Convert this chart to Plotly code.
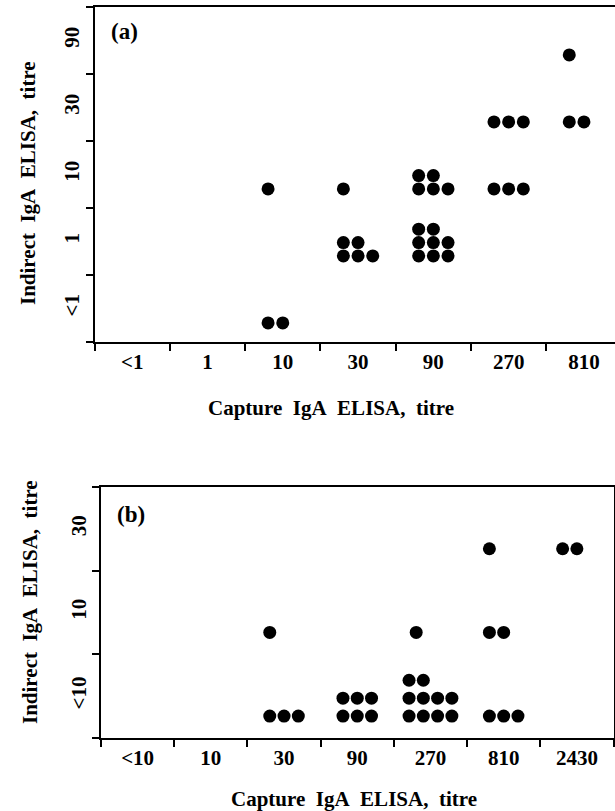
import plotly.graph_objects as go

# ---------------- data ----------------
# Panel (a)
a_xcats = ["<1", "1", "10", "30", "90", "270", "810"]
a_ycats = ["<1", "1", "10", "30", "90"]
a_cell_x = ["10", "10", "30", "30", "90", "90", "270", "270", "810", "810"]
a_cell_y = ["10", "<1", "10", "1", "10", "1", "30", "10", "90", "30"]
a_rows = [[1], [2], [1], [3, 2], [3, 2], [3, 3, 2], [3], [3], [1], [2]]  # dots per row, bottom row first

# Panel (b)
b_xcats = ["<10", "10", "30", "90", "270", "810", "2430"]
b_ycats = ["<10", "10", "30"]
b_cell_x = ["30", "30", "90", "270", "270", "810", "810", "810", "2430"]
b_cell_y = ["10", "<10", "<10", "10", "<10", "30", "10", "<10", "30"]
b_rows = [[1], [3], [3, 3], [1], [4, 4, 2], [1], [2], [3], [2]]

x_title = "Capture\u00a0\u00a0IgA\u00a0\u00a0ELISA,\u00a0\u00a0titre"
y_title = "Indirect\u00a0\u00a0IgA\u00a0\u00a0ELISA,\u00a0\u00a0titre"

W, H = 615, 811
FONT = "Liberation Serif"


def expand(cell_x, cell_y, rows, xcats, ycats, dx, y0, dy):
    xs, ys = [], []
    for cx, cy, r in zip(cell_x, cell_y, rows):
        xi = xcats.index(cx)
        yi = ycats.index(cy)
        ncol = max(3, max(r))
        for k, n in enumerate(r):
            for j in range(n):
                xs.append(xi + (j - (ncol - 1) / 2) * dx)
                ys.append(yi + y0 + k * dy)
    return xs, ys


ax, ay = expand(a_cell_x, a_cell_y, a_rows, a_xcats, a_ycats, 0.195, -0.216, 0.20)
bx, by = expand(b_cell_x, b_cell_y, b_rows, b_xcats, b_ycats, 0.195, -0.238, 0.214)

fig = go.Figure()
mk = dict(color="black", size=13, line=dict(width=0))
fig.add_trace(go.Scatter(x=ax, y=ay, mode="markers", marker=mk, xaxis="x", yaxis="y",
                         showlegend=False, hoverinfo="skip"))
fig.add_trace(go.Scatter(x=bx, y=by, mode="markers", marker=mk, xaxis="x2", yaxis="y2",
                         showlegend=False, hoverinfo="skip"))

tickfont = dict(family=FONT, size=21, color="black", weight="bold")


def axis_common(n, labels):
    return dict(
        tickmode="array",
        tickvals=list(range(n)),
        ticktext=labels,
        ticks="",
        showgrid=False,
        zeroline=False,
        showline=True,
        linecolor="black",
        linewidth=2,
        tickfont=tickfont,
        minor=dict(tickmode="array", tickvals=[i - 0.5 for i in range(n + 1)],
                   ticks="outside", ticklen=7, tickwidth=2, tickcolor="black",
                   showgrid=False),
    )


# pixel geometry
a_left, a_cell = 94.5, 75.3
a_top, a_bot = 7, 342
b_left, b_right = 101, 613.5
b_top, b_bot = 487, 738

xa = axis_common(7, a_xcats)
xa.update(domain=[a_left / W, 1], anchor="y", mirror=True,
          range=[-0.5, -0.5 + (W - a_left) / a_cell], ticklabelstandoff=0)
ya = axis_common(5, a_ycats)
ya.update(domain=[1 - a_bot / H, 1 - a_top / H], anchor="x", range=[-0.5, 4.5],
          tickangle=-90, ticklabelstandoff=5)

xb = axis_common(7, b_xcats)
xb.update(domain=[b_left / W, b_right / W], anchor="y2", mirror=True,
          range=[-0.5, 6.5], ticklabelstandoff=0)
yb = axis_common(3, b_ycats)
yb.update(domain=[1 - b_bot / H, 1 - b_top / H], anchor="x2", mirror=True,
          range=[-0.5, 2.5], tickangle=-90, ticklabelstandoff=5)


def ann(text, x, y, angle=0, size=20):
    return dict(text=text, x=x / W, y=1 - y / H, xref="paper", yref="paper",
                showarrow=False, textangle=angle, xanchor="center", yanchor="middle",
                font=dict(family=FONT, size=size, color="black", weight="bold"))


annotations = [
    ann("(a)", 124, 32, size=23),
    ann("(b)", 131, 514, size=23),
    ann(x_title, 331, 408, size=21),
    ann(x_title, 354, 799, size=21),
    ann(y_title, 28, 183, angle=-90, size=21),
    ann(y_title, 30, 602, angle=-90, size=21),
]

fig.update_layout(
    width=W, height=H,
    margin=dict(l=0, r=0, t=0, b=0),
    paper_bgcolor="white", plot_bgcolor="white",
    xaxis=xa, yaxis=ya, xaxis2=xb, yaxis2=yb,
    annotations=annotations,
    showlegend=False,
)

fig.write_html("out.html", config={"displayModeBar": False, "staticPlot": True},
               post_script="document.body.style.margin='0';document.body.style.overflow='hidden';")
